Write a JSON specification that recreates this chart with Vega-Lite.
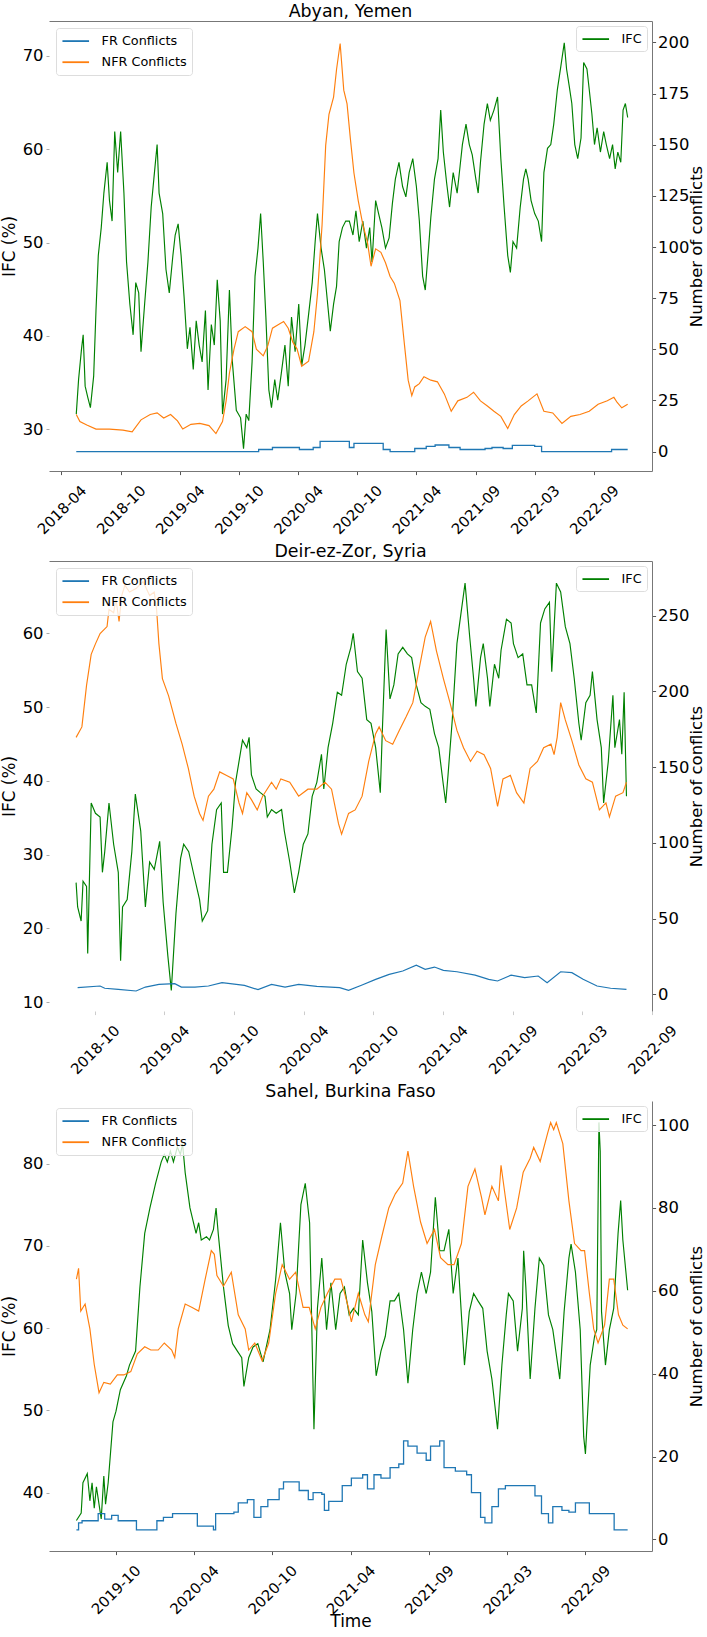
{
  "$schema": "https://vega.github.io/schema/vega-lite/v6.json",
  "description": "IFC and number of FR/NFR conflicts over time for three regions.",
  "padding": {"left": 0, "top": 3, "right": 0, "bottom": 0},
  "spacing": 90,
  "bounds": "flush",
  "datasets": {
    "abyan_ifc": [
      {"date":"2018-06-02","ifc":31.6},{"date":"2018-06-09","ifc":35.3},{"date":"2018-06-18","ifc":38.6},{"date":"2018-06-23","ifc":40.1},{"date":"2018-06-29","ifc":34.6},{"date":"2018-07-07","ifc":33.4},{"date":"2018-07-15","ifc":32.3},{"date":"2018-07-25","ifc":35.7},{"date":"2018-08-01","ifc":42.7},{"date":"2018-08-08","ifc":48.6},{"date":"2018-08-17","ifc":51.6},{"date":"2018-08-25","ifc":55.3},{"date":"2018-09-04","ifc":58.6},{"date":"2018-09-11","ifc":54.5},{"date":"2018-09-19","ifc":52.3},{"date":"2018-09-27","ifc":61.9},{"date":"2018-10-06","ifc":57.5},{"date":"2018-10-15","ifc":61.9},{"date":"2018-10-25","ifc":55.3},{"date":"2018-11-02","ifc":47.9},{"date":"2018-11-12","ifc":43.4},{"date":"2018-11-22","ifc":40.1},{"date":"2018-11-30","ifc":45.7},{"date":"2018-12-09","ifc":44.6},{"date":"2018-12-16","ifc":38.3},{"date":"2018-12-27","ifc":43.4},
      {"date":"2019-01-06","ifc":47.9},{"date":"2019-01-16","ifc":53.8},{"date":"2019-01-24","ifc":56.8},{"date":"2019-02-03","ifc":60.5},{"date":"2019-02-09","ifc":55.3},{"date":"2019-02-20","ifc":53.1},{"date":"2019-03-02","ifc":47.1},{"date":"2019-03-12","ifc":44.6},{"date":"2019-03-23","ifc":48.6},{"date":"2019-03-30","ifc":50.8},{"date":"2019-04-08","ifc":52.0},{"date":"2019-04-17","ifc":48.6},{"date":"2019-04-26","ifc":44.2},{"date":"2019-05-06","ifc":38.6},{"date":"2019-05-14","ifc":40.9},{"date":"2019-05-24","ifc":36.4},{"date":"2019-06-02","ifc":41.6},{"date":"2019-06-11","ifc":39.0},{"date":"2019-06-20","ifc":37.2},{"date":"2019-06-30","ifc":42.7},{"date":"2019-07-08","ifc":34.2},{"date":"2019-07-18","ifc":41.2},{"date":"2019-07-27","ifc":39.0},{"date":"2019-08-05","ifc":46.0},{"date":"2019-08-14","ifc":41.6},{"date":"2019-08-21","ifc":31.6},{"date":"2019-09-01","ifc":35.3},{"date":"2019-09-11","ifc":44.9},{"date":"2019-09-20","ifc":37.2},{"date":"2019-10-02","ifc":32.0},{"date":"2019-10-15","ifc":31.2},{"date":"2019-10-24","ifc":27.9},{"date":"2019-11-01","ifc":31.6},{"date":"2019-11-09","ifc":30.9},{"date":"2019-11-19","ifc":37.2},{"date":"2019-11-28","ifc":46.4},{"date":"2019-12-07","ifc":49.4},{"date":"2019-12-15","ifc":53.1},{"date":"2019-12-23","ifc":47.9},{"date":"2019-12-31","ifc":42.0},
      {"date":"2020-01-09","ifc":34.2},{"date":"2020-01-17","ifc":32.3},{"date":"2020-01-27","ifc":35.3},{"date":"2020-02-05","ifc":33.1},{"date":"2020-02-16","ifc":36.0},{"date":"2020-02-27","ifc":39.0},{"date":"2020-03-08","ifc":34.6},{"date":"2020-03-18","ifc":42.0},{"date":"2020-03-29","ifc":38.3},{"date":"2020-04-09","ifc":43.4},{"date":"2020-04-18","ifc":36.8},{"date":"2020-04-28","ifc":39.0},{"date":"2020-05-09","ifc":42.3},{"date":"2020-05-20","ifc":45.7},{"date":"2020-05-29","ifc":50.1},{"date":"2020-06-05","ifc":53.1},{"date":"2020-06-16","ifc":49.4},{"date":"2020-06-26","ifc":47.1},{"date":"2020-07-06","ifc":43.4},{"date":"2020-07-14","ifc":40.5},{"date":"2020-07-24","ifc":43.4},{"date":"2020-08-02","ifc":45.3},{"date":"2020-08-10","ifc":50.1},{"date":"2020-08-20","ifc":51.6},{"date":"2020-08-30","ifc":52.3},{"date":"2020-09-10","ifc":52.3},{"date":"2020-09-21","ifc":50.8},{"date":"2020-09-30","ifc":53.4},{"date":"2020-10-10","ifc":50.1},{"date":"2020-10-21","ifc":52.3},{"date":"2020-11-01","ifc":49.4},{"date":"2020-11-11","ifc":51.6},{"date":"2020-11-18","ifc":47.9},{"date":"2020-11-29","ifc":54.5},{"date":"2020-12-08","ifc":53.1},{"date":"2020-12-18","ifc":51.6},{"date":"2020-12-29","ifc":49.4},
      {"date":"2021-01-09","ifc":50.5},{"date":"2021-01-19","ifc":54.2},{"date":"2021-01-28","ifc":56.8},{"date":"2021-02-08","ifc":58.6},{"date":"2021-02-19","ifc":56.0},{"date":"2021-03-01","ifc":54.9},{"date":"2021-03-11","ifc":57.5},{"date":"2021-03-22","ifc":59.0},{"date":"2021-04-02","ifc":56.0},{"date":"2021-04-11","ifc":52.3},{"date":"2021-04-21","ifc":46.4},{"date":"2021-04-29","ifc":44.9},{"date":"2021-05-09","ifc":49.4},{"date":"2021-05-16","ifc":52.7},{"date":"2021-05-27","ifc":56.8},{"date":"2021-06-07","ifc":59.0},{"date":"2021-06-15","ifc":64.2},{"date":"2021-06-23","ifc":59.7},{"date":"2021-07-03","ifc":56.4},{"date":"2021-07-12","ifc":53.8},{"date":"2021-07-23","ifc":57.5},{"date":"2021-08-04","ifc":55.3},{"date":"2021-08-13","ifc":58.2},{"date":"2021-08-20","ifc":60.5},{"date":"2021-08-31","ifc":62.7},{"date":"2021-09-10","ifc":60.5},{"date":"2021-09-19","ifc":59.4},{"date":"2021-09-30","ifc":56.8},{"date":"2021-10-07","ifc":55.3},{"date":"2021-10-14","ifc":58.6},{"date":"2021-10-25","ifc":62.7},{"date":"2021-11-04","ifc":64.9},{"date":"2021-11-13","ifc":63.1},{"date":"2021-11-24","ifc":64.2},{"date":"2021-12-05","ifc":65.6},{"date":"2021-12-15","ifc":59.0},{"date":"2021-12-25","ifc":53.8},
      {"date":"2022-01-05","ifc":48.6},{"date":"2022-01-13","ifc":46.8},{"date":"2022-01-21","ifc":50.1},{"date":"2022-02-01","ifc":49.4},{"date":"2022-02-12","ifc":53.8},{"date":"2022-02-22","ifc":56.8},{"date":"2022-03-01","ifc":57.9},{"date":"2022-03-08","ifc":56.8},{"date":"2022-03-17","ifc":54.5},{"date":"2022-03-28","ifc":53.1},{"date":"2022-04-08","ifc":52.3},{"date":"2022-04-18","ifc":50.1},{"date":"2022-04-25","ifc":57.5},{"date":"2022-05-06","ifc":60.1},{"date":"2022-05-16","ifc":60.5},{"date":"2022-05-25","ifc":62.7},{"date":"2022-06-05","ifc":66.4},{"date":"2022-06-16","ifc":69.0},{"date":"2022-06-26","ifc":71.4},{"date":"2022-07-03","ifc":68.6},{"date":"2022-07-11","ifc":66.8},{"date":"2022-07-19","ifc":64.9},{"date":"2022-07-28","ifc":60.5},{"date":"2022-08-06","ifc":59.0},{"date":"2022-08-16","ifc":61.2},{"date":"2022-08-24","ifc":69.3},{"date":"2022-09-03","ifc":68.6},{"date":"2022-09-10","ifc":66.4},{"date":"2022-09-18","ifc":63.8},{"date":"2022-09-26","ifc":60.5},{"date":"2022-10-04","ifc":62.3},{"date":"2022-10-14","ifc":59.7},{"date":"2022-10-24","ifc":61.9},{"date":"2022-11-01","ifc":60.5},{"date":"2022-11-11","ifc":59.0},{"date":"2022-11-20","ifc":60.5},{"date":"2022-11-28","ifc":57.9},{"date":"2022-12-06","ifc":59.7},{"date":"2022-12-15","ifc":58.6},{"date":"2022-12-22","ifc":64.2},{"date":"2022-12-29","ifc":64.9},{"date":"2023-01-05","ifc":63.4}
    ],
    "abyan_nfr": [
      {"date":"2018-06-02","conflicts":18.1},{"date":"2018-06-13","conflicts":14.7},{"date":"2018-07-04","conflicts":13.0},{"date":"2018-08-01","conflicts":11.0},{"date":"2018-09-11","conflicts":11.0},{"date":"2018-10-22","conflicts":10.5},{"date":"2018-11-19","conflicts":9.6},{"date":"2018-12-16","conflicts":15.5},{"date":"2019-01-13","conflicts":18.1},{"date":"2019-02-03","conflicts":18.9},{"date":"2019-02-23","conflicts":16.4},{"date":"2019-03-16","conflicts":18.1},{"date":"2019-04-06","conflicts":15.0},{"date":"2019-04-22","conflicts":11.0},{"date":"2019-05-17","conflicts":13.3},{"date":"2019-06-13","conflicts":13.8},{"date":"2019-07-11","conflicts":12.7},{"date":"2019-08-01","conflicts":8.8},{"date":"2019-08-21","conflicts":14.7},{"date":"2019-09-01","conflicts":24.8},{"date":"2019-09-11","conflicts":38.3},{"date":"2019-09-25","conflicts":50.1},{"date":"2019-10-08","conflicts":58.6},{"date":"2019-10-29","conflicts":61.1},{"date":"2019-11-19","conflicts":58.6},{"date":"2019-12-02","conflicts":50.1},{"date":"2019-12-23","conflicts":46.8},
      {"date":"2020-01-06","conflicts":51.8},{"date":"2020-01-20","conflicts":60.3},{"date":"2020-02-05","conflicts":61.9},{"date":"2020-02-23","conflicts":63.6},{"date":"2020-03-08","conflicts":60.3},{"date":"2020-03-22","conflicts":53.5},{"date":"2020-04-04","conflicts":50.1},{"date":"2020-04-18","conflicts":41.7},{"date":"2020-05-09","conflicts":44.2},{"date":"2020-05-25","conflicts":58.6},{"date":"2020-06-05","conflicts":77.1},{"date":"2020-06-19","conflicts":110.9},{"date":"2020-06-30","conflicts":149.7},{"date":"2020-07-10","conflicts":164.9},{"date":"2020-07-24","conflicts":173.3},{"date":"2020-08-02","conflicts":186.8},{"date":"2020-08-13","conflicts":199.5},{"date":"2020-08-24","conflicts":176.7},{"date":"2020-09-03","conflicts":170.0},{"date":"2020-09-13","conflicts":153.1},{"date":"2020-09-24","conflicts":136.2},{"date":"2020-10-07","conflicts":122.7},{"date":"2020-10-21","conflicts":110.9},{"date":"2020-11-04","conflicts":102.4},{"date":"2020-11-15","conflicts":90.6},{"date":"2020-11-29","conflicts":99.1},{"date":"2020-12-15","conflicts":97.4},{"date":"2020-12-29","conflicts":92.3},
      {"date":"2021-01-12","conflicts":85.6},{"date":"2021-01-25","conflicts":82.2},{"date":"2021-02-11","conflicts":73.8},{"date":"2021-02-25","conflicts":51.8},{"date":"2021-03-08","conflicts":34.9},{"date":"2021-03-19","conflicts":27.3},{"date":"2021-03-28","conflicts":31.6},{"date":"2021-04-11","conflicts":33.2},{"date":"2021-04-25","conflicts":36.6},{"date":"2021-05-16","conflicts":34.9},{"date":"2021-06-05","conflicts":34.1},{"date":"2021-06-26","conflicts":28.2},{"date":"2021-07-17","conflicts":19.7},{"date":"2021-08-06","conflicts":24.8},{"date":"2021-09-03","conflicts":26.5},{"date":"2021-09-23","conflicts":29.0},{"date":"2021-10-14","conflicts":24.8},{"date":"2021-11-04","conflicts":22.3},{"date":"2021-11-24","conflicts":19.7},{"date":"2021-12-15","conflicts":17.2},
      {"date":"2022-01-05","conflicts":11.3},{"date":"2022-01-25","conflicts":18.1},{"date":"2022-02-15","conflicts":22.3},{"date":"2022-03-08","conflicts":24.8},{"date":"2022-04-04","conflicts":28.2},{"date":"2022-04-25","conflicts":19.7},{"date":"2022-05-22","conflicts":18.9},{"date":"2022-06-19","conflicts":13.8},{"date":"2022-07-16","conflicts":17.2},{"date":"2022-08-13","conflicts":18.1},{"date":"2022-09-10","conflicts":19.7},{"date":"2022-10-07","conflicts":23.1},{"date":"2022-11-04","conflicts":24.8},{"date":"2022-11-24","conflicts":26.5},{"date":"2022-12-04","conflicts":24.0},{"date":"2022-12-18","conflicts":21.4},{"date":"2023-01-05","conflicts":23.1}
    ],
    "abyan_fr": [
      {"date":"2018-06-02","conflicts":0},{"date":"2019-12-09","conflicts":1},{"date":"2020-01-20","conflicts":2},{"date":"2020-04-11","conflicts":1},{"date":"2020-05-23","conflicts":2},{"date":"2020-06-13","conflicts":5},{"date":"2020-09-10","conflicts":2},{"date":"2020-09-24","conflicts":4},{"date":"2020-12-22","conflicts":1},{"date":"2021-01-12","conflicts":0},{"date":"2021-03-28","conflicts":1.5},{"date":"2021-05-02","conflicts":2.5},{"date":"2021-05-29","conflicts":3.2},{"date":"2021-07-10","conflicts":2},{"date":"2021-08-13","conflicts":1},{"date":"2021-10-28","conflicts":1.5},{"date":"2021-11-18","conflicts":2},{"date":"2021-12-22","conflicts":1.5},{"date":"2022-01-19","conflicts":3},{"date":"2022-03-28","conflicts":2.5},{"date":"2022-04-18","conflicts":0},{"date":"2022-11-17","conflicts":1},{"date":"2023-01-05","conflicts":1}
    ],
    "deir_ifc": [
      {"date":"2018-08-28","ifc":26.2},{"date":"2018-09-01","ifc":22.9},{"date":"2018-09-10","ifc":21.0},{"date":"2018-09-15","ifc":26.4},{"date":"2018-09-24","ifc":25.7},{"date":"2018-09-27","ifc":16.6},{"date":"2018-10-06","ifc":37.0},{"date":"2018-10-17","ifc":35.6},{"date":"2018-10-29","ifc":35.1},{"date":"2018-11-04","ifc":27.6},{"date":"2018-11-10","ifc":30.4},{"date":"2018-11-21","ifc":37.0},{"date":"2018-12-03","ifc":31.4},{"date":"2018-12-15","ifc":27.6},{"date":"2018-12-21","ifc":15.6},{"date":"2018-12-26","ifc":22.9},
      {"date":"2019-01-07","ifc":23.9},{"date":"2019-01-19","ifc":30.4},{"date":"2019-01-28","ifc":38.2},{"date":"2019-02-11","ifc":33.2},{"date":"2019-02-23","ifc":22.9},{"date":"2019-03-06","ifc":29.0},{"date":"2019-03-18","ifc":28.0},{"date":"2019-04-01","ifc":31.8},{"date":"2019-04-10","ifc":23.5},{"date":"2019-04-22","ifc":16.3},{"date":"2019-05-01","ifc":11.6},{"date":"2019-05-13","ifc":22.0},{"date":"2019-05-25","ifc":29.5},{"date":"2019-06-02","ifc":31.4},{"date":"2019-06-15","ifc":30.4},{"date":"2019-06-29","ifc":27.1},{"date":"2019-07-13","ifc":23.9},{"date":"2019-07-20","ifc":21.0},{"date":"2019-08-03","ifc":22.4},{"date":"2019-08-14","ifc":31.4},{"date":"2019-08-26","ifc":36.1},{"date":"2019-09-07","ifc":37.0},{"date":"2019-09-13","ifc":27.6},{"date":"2019-09-23","ifc":27.6},{"date":"2019-10-05","ifc":33.7},{"date":"2019-10-14","ifc":39.8},{"date":"2019-11-01","ifc":45.5},{"date":"2019-11-12","ifc":44.5},{"date":"2019-11-18","ifc":45.9},{"date":"2019-11-24","ifc":40.8},{"date":"2019-12-06","ifc":38.9},{"date":"2019-12-17","ifc":38.4},{"date":"2019-12-29","ifc":37.9},
      {"date":"2020-01-04","ifc":35.1},{"date":"2020-01-15","ifc":36.1},{"date":"2020-01-27","ifc":35.6},{"date":"2020-02-10","ifc":36.1},{"date":"2020-02-17","ifc":33.2},{"date":"2020-03-02","ifc":29.0},{"date":"2020-03-14","ifc":24.8},{"date":"2020-03-25","ifc":27.6},{"date":"2020-04-06","ifc":31.4},{"date":"2020-04-18","ifc":32.8},{"date":"2020-04-29","ifc":37.9},{"date":"2020-05-11","ifc":39.8},{"date":"2020-05-23","ifc":43.6},{"date":"2020-05-29","ifc":38.9},{"date":"2020-06-09","ifc":44.5},{"date":"2020-06-21","ifc":47.8},{"date":"2020-07-03","ifc":52.0},{"date":"2020-07-14","ifc":51.6},{"date":"2020-07-26","ifc":55.8},{"date":"2020-08-07","ifc":58.1},{"date":"2020-08-13","ifc":60.0},{"date":"2020-08-24","ifc":54.8},{"date":"2020-09-05","ifc":53.9},{"date":"2020-09-17","ifc":48.3},{"date":"2020-09-28","ifc":47.8},{"date":"2020-10-10","ifc":44.5},{"date":"2020-10-22","ifc":38.4},{"date":"2020-10-27","ifc":46.4},{"date":"2020-11-06","ifc":60.5},{"date":"2020-11-16","ifc":51.1},{"date":"2020-11-26","ifc":53.0},{"date":"2020-12-07","ifc":57.2},{"date":"2020-12-19","ifc":58.1},{"date":"2020-12-31","ifc":57.2},
      {"date":"2021-01-11","ifc":56.7},{"date":"2021-01-23","ifc":53.0},{"date":"2021-02-04","ifc":50.6},{"date":"2021-02-15","ifc":50.1},{"date":"2021-02-27","ifc":49.7},{"date":"2021-03-11","ifc":46.4},{"date":"2021-03-22","ifc":44.5},{"date":"2021-04-03","ifc":39.4},{"date":"2021-04-09","ifc":37.0},{"date":"2021-04-15","ifc":40.8},{"date":"2021-04-26","ifc":48.3},{"date":"2021-05-08","ifc":58.6},{"date":"2021-05-20","ifc":63.3},{"date":"2021-05-29","ifc":66.8},{"date":"2021-06-10","ifc":59.5},{"date":"2021-06-20","ifc":53.9},{"date":"2021-06-26","ifc":50.1},{"date":"2021-07-08","ifc":56.7},{"date":"2021-07-15","ifc":58.6},{"date":"2021-07-26","ifc":53.9},{"date":"2021-08-01","ifc":50.1},{"date":"2021-08-13","ifc":55.8},{"date":"2021-08-24","ifc":53.9},{"date":"2021-08-30","ifc":57.7},{"date":"2021-09-13","ifc":61.9},{"date":"2021-09-25","ifc":61.4},{"date":"2021-10-01","ifc":58.6},{"date":"2021-10-13","ifc":56.7},{"date":"2021-10-25","ifc":57.2},{"date":"2021-11-05","ifc":53.0},{"date":"2021-11-17","ifc":53.0},{"date":"2021-11-29","ifc":49.2},{"date":"2021-12-10","ifc":61.4},{"date":"2021-12-21","ifc":63.3},
      {"date":"2022-01-02","ifc":64.2},{"date":"2022-01-08","ifc":54.8},{"date":"2022-01-20","ifc":66.8},{"date":"2022-01-31","ifc":65.6},{"date":"2022-02-12","ifc":60.9},{"date":"2022-02-24","ifc":58.6},{"date":"2022-03-07","ifc":53.9},{"date":"2022-03-19","ifc":47.8},{"date":"2022-03-25","ifc":45.5},{"date":"2022-04-06","ifc":50.6},{"date":"2022-04-17","ifc":51.6},{"date":"2022-04-23","ifc":54.8},{"date":"2022-05-05","ifc":48.3},{"date":"2022-05-16","ifc":44.5},{"date":"2022-05-22","ifc":37.0},{"date":"2022-06-03","ifc":42.6},{"date":"2022-06-15","ifc":51.6},{"date":"2022-06-20","ifc":44.5},{"date":"2022-07-02","ifc":48.3},{"date":"2022-07-08","ifc":43.6},{"date":"2022-07-14","ifc":52.0},{"date":"2022-07-20","ifc":37.9}
    ],
    "deir_nfr": [
      {"date":"2018-08-28","conflicts":169.6},{"date":"2018-09-12","conflicts":176.5},{"date":"2018-09-24","conflicts":203.9},{"date":"2018-10-06","conflicts":224.4},{"date":"2018-10-17","conflicts":231.3},{"date":"2018-10-29","conflicts":238.1},{"date":"2018-11-16","conflicts":242.7},{"date":"2018-11-21","conflicts":254.1},{"date":"2018-12-03","conflicts":251.8},{"date":"2018-12-09","conflicts":261.0},{"date":"2018-12-17","conflicts":246.1},{"date":"2018-12-24","conflicts":263.2},{"date":"2019-01-01","conflicts":270.1},{"date":"2019-01-13","conflicts":265.5},{"date":"2019-01-30","conflicts":267.8},{"date":"2019-02-17","conflicts":272.4},{"date":"2019-03-06","conflicts":263.2},{"date":"2019-03-18","conflicts":265.5},{"date":"2019-03-24","conflicts":254.1},{"date":"2019-03-30","conflicts":231.3},{"date":"2019-04-08","conflicts":208.4},{"date":"2019-04-24","conflicts":197.0},{"date":"2019-05-13","conflicts":178.8},{"date":"2019-05-29","conflicts":165.1},{"date":"2019-06-14","conflicts":149.1},{"date":"2019-06-29","conflicts":130.8},{"date":"2019-07-13","conflicts":119.4},{"date":"2019-07-22","conflicts":114.8},{"date":"2019-08-05","conflicts":130.8},{"date":"2019-08-19","conflicts":135.4},{"date":"2019-09-03","conflicts":146.8},{"date":"2019-09-21","conflicts":144.5},{"date":"2019-10-08","conflicts":142.2},{"date":"2019-10-23","conflicts":126.3},{"date":"2019-11-01","conflicts":119.4},{"date":"2019-11-12","conflicts":133.1},{"date":"2019-11-24","conflicts":128.5},{"date":"2019-12-09","conflicts":121.7},{"date":"2019-12-23","conflicts":130.8},
      {"date":"2020-01-15","conflicts":140.0},{"date":"2020-01-27","conflicts":135.4},{"date":"2020-02-08","conflicts":142.2},{"date":"2020-03-02","conflicts":140.0},{"date":"2020-03-25","conflicts":130.8},{"date":"2020-04-18","conflicts":135.4},{"date":"2020-05-11","conflicts":135.4},{"date":"2020-06-01","conflicts":140.0},{"date":"2020-06-18","conflicts":135.4},{"date":"2020-07-06","conflicts":112.6},{"date":"2020-07-14","conflicts":105.7},{"date":"2020-08-01","conflicts":119.4},{"date":"2020-08-18","conflicts":121.7},{"date":"2020-09-05","conflicts":130.8},{"date":"2020-09-22","conflicts":153.7},{"date":"2020-10-10","conflicts":172.0},{"date":"2020-10-19","conflicts":176.5},{"date":"2020-11-05","conflicts":167.4},{"date":"2020-11-23","conflicts":165.1},{"date":"2020-12-10","conflicts":174.2},{"date":"2020-12-28","conflicts":183.3},
      {"date":"2021-01-14","conflicts":192.5},{"date":"2021-01-29","conflicts":213.0},{"date":"2021-02-15","conflicts":235.8},{"date":"2021-03-01","conflicts":246.1},{"date":"2021-03-16","conflicts":226.7},{"date":"2021-04-03","conflicts":208.4},{"date":"2021-04-20","conflicts":192.5},{"date":"2021-05-08","conflicts":174.2},{"date":"2021-05-25","conflicts":162.8},{"date":"2021-06-12","conflicts":153.7},{"date":"2021-06-29","conflicts":160.5},{"date":"2021-07-17","conflicts":158.2},{"date":"2021-08-03","conflicts":149.1},{"date":"2021-08-21","conflicts":124.0},{"date":"2021-09-04","conflicts":142.2},{"date":"2021-09-23","conflicts":144.5},{"date":"2021-10-09","conflicts":133.1},{"date":"2021-10-28","conflicts":126.3},{"date":"2021-11-13","conflicts":149.1},{"date":"2021-12-02","conflicts":153.7},{"date":"2021-12-18","conflicts":162.8},
      {"date":"2022-01-06","conflicts":165.1},{"date":"2022-01-14","conflicts":158.2},{"date":"2022-01-22","conflicts":169.6},{"date":"2022-01-31","conflicts":192.5},{"date":"2022-02-12","conflicts":181.1},{"date":"2022-03-01","conflicts":167.4},{"date":"2022-03-19","conflicts":151.4},{"date":"2022-04-06","conflicts":142.2},{"date":"2022-04-23","conflicts":140.0},{"date":"2022-05-11","conflicts":121.7},{"date":"2022-05-28","conflicts":126.3},{"date":"2022-06-06","conflicts":117.1},{"date":"2022-06-22","conflicts":130.8},{"date":"2022-07-11","conflicts":133.1},{"date":"2022-07-20","conflicts":140.0}
    ],
    "deir_fr": [
      {"date":"2018-09-01","conflicts":4.4},{"date":"2018-10-29","conflicts":5.5},{"date":"2018-11-10","conflicts":4.0},{"date":"2018-12-15","conflicts":3.3},{"date":"2019-01-30","conflicts":2.2},{"date":"2019-02-23","conflicts":4.8},{"date":"2019-03-30","conflicts":6.6},{"date":"2019-05-10","conflicts":7.0},{"date":"2019-05-27","conflicts":4.8},{"date":"2019-07-01","conflicts":4.8},{"date":"2019-08-05","conflicts":5.5},{"date":"2019-09-09","conflicts":7.7},{"date":"2019-11-06","conflicts":5.9},{"date":"2019-12-11","conflicts":3.1},{"date":"2020-01-15","conflicts":6.6},{"date":"2020-02-19","conflicts":4.8},{"date":"2020-03-25","conflicts":6.6},{"date":"2020-05-11","conflicts":5.3},{"date":"2020-07-09","conflicts":4.4},{"date":"2020-08-01","conflicts":2.6},{"date":"2020-09-05","conflicts":6.2},{"date":"2020-10-10","conflicts":9.9},{"date":"2020-11-14","conflicts":13.2},{"date":"2020-12-19","conflicts":15.4},{"date":"2021-01-23","conflicts":19.3},{"date":"2021-02-15","conflicts":16.5},{"date":"2021-03-11","conflicts":18.0},{"date":"2021-04-03","conflicts":15.8},{"date":"2021-05-08","conflicts":14.9},{"date":"2021-06-24","conflicts":12.7},{"date":"2021-07-29","conflicts":9.9},{"date":"2021-08-21","conflicts":8.8},{"date":"2021-09-25","conflicts":12.7},{"date":"2021-10-30","conflicts":11.0},{"date":"2021-12-04","conflicts":12.1},{"date":"2021-12-27","conflicts":7.7},{"date":"2022-01-31","conflicts":14.9},{"date":"2022-03-01","conflicts":14.3},{"date":"2022-03-30","conflicts":9.9},{"date":"2022-05-05","conflicts":5.5},{"date":"2022-06-09","conflicts":4.0},{"date":"2022-07-20","conflicts":3.3}
    ],
    "sahel_ifc": [
      {"date":"2019-07-12","ifc":36.6},{"date":"2019-07-23","ifc":37.5},{"date":"2019-07-27","ifc":41.2},{"date":"2019-08-06","ifc":42.3},{"date":"2019-08-12","ifc":39.0},{"date":"2019-08-17","ifc":41.2},{"date":"2019-08-22","ifc":38.1},{"date":"2019-08-27","ifc":40.7},{"date":"2019-09-07","ifc":36.8},{"date":"2019-09-13","ifc":42.0},{"date":"2019-09-17","ifc":38.6},{"date":"2019-09-23","ifc":41.2},{"date":"2019-10-04","ifc":48.6},{"date":"2019-10-11","ifc":49.9},{"date":"2019-10-21","ifc":52.5},{"date":"2019-11-04","ifc":54.2},{"date":"2019-11-11","ifc":55.5},{"date":"2019-11-25","ifc":57.2},{"date":"2019-12-05","ifc":65.0},{"date":"2019-12-16","ifc":71.5},{"date":"2019-12-28","ifc":74.6},
      {"date":"2020-01-10","ifc":77.6},{"date":"2020-01-23","ifc":80.2},{"date":"2020-01-30","ifc":81.1},{"date":"2020-02-06","ifc":80.2},{"date":"2020-02-13","ifc":81.5},{"date":"2020-02-20","ifc":80.2},{"date":"2020-02-29","ifc":82.0},{"date":"2020-03-07","ifc":81.1},{"date":"2020-03-12","ifc":82.4},{"date":"2020-03-18","ifc":78.9},{"date":"2020-03-29","ifc":74.6},{"date":"2020-04-12","ifc":71.5},{"date":"2020-04-18","ifc":72.8},{"date":"2020-04-24","ifc":70.7},{"date":"2020-05-06","ifc":71.1},{"date":"2020-05-13","ifc":70.7},{"date":"2020-05-22","ifc":72.0},{"date":"2020-05-28","ifc":74.6},{"date":"2020-06-02","ifc":71.5},{"date":"2020-06-14","ifc":65.0},{"date":"2020-06-25","ifc":60.3},{"date":"2020-07-05","ifc":58.1},{"date":"2020-07-16","ifc":57.2},{"date":"2020-07-26","ifc":56.4},{"date":"2020-07-31","ifc":52.9},{"date":"2020-08-11","ifc":56.4},{"date":"2020-08-21","ifc":57.7},{"date":"2020-09-01","ifc":58.1},{"date":"2020-09-13","ifc":55.9},{"date":"2020-09-29","ifc":59.8},{"date":"2020-10-12","ifc":65.9},{"date":"2020-10-23","ifc":72.8},{"date":"2020-11-02","ifc":66.8},{"date":"2020-11-13","ifc":64.2},{"date":"2020-11-18","ifc":59.8},{"date":"2020-11-28","ifc":64.2},{"date":"2020-12-09","ifc":75.0},{"date":"2020-12-19","ifc":77.6},{"date":"2020-12-29","ifc":72.8},
      {"date":"2021-01-08","ifc":47.7},{"date":"2021-01-16","ifc":62.4},{"date":"2021-01-26","ifc":68.5},{"date":"2021-02-06","ifc":59.8},{"date":"2021-02-16","ifc":65.5},{"date":"2021-02-27","ifc":59.8},{"date":"2021-03-09","ifc":64.2},{"date":"2021-03-19","ifc":65.0},{"date":"2021-03-30","ifc":61.6},{"date":"2021-04-09","ifc":62.4},{"date":"2021-04-20","ifc":61.6},{"date":"2021-04-30","ifc":70.7},{"date":"2021-05-11","ifc":65.5},{"date":"2021-05-21","ifc":62.0},{"date":"2021-05-31","ifc":54.2},{"date":"2021-06-11","ifc":57.2},{"date":"2021-06-21","ifc":59.0},{"date":"2021-07-02","ifc":63.3},{"date":"2021-07-12","ifc":63.3},{"date":"2021-07-22","ifc":64.2},{"date":"2021-08-02","ifc":59.8},{"date":"2021-08-12","ifc":53.3},{"date":"2021-08-23","ifc":59.8},{"date":"2021-09-02","ifc":64.2},{"date":"2021-09-12","ifc":66.8},{"date":"2021-09-23","ifc":64.2},{"date":"2021-10-03","ifc":66.8},{"date":"2021-10-14","ifc":75.9},{"date":"2021-10-24","ifc":69.4},{"date":"2021-11-03","ifc":69.4},{"date":"2021-11-14","ifc":72.0},{"date":"2021-11-24","ifc":64.2},{"date":"2021-12-05","ifc":68.5},{"date":"2021-12-15","ifc":59.8},{"date":"2021-12-20","ifc":55.5},{"date":"2021-12-31","ifc":62.0},
      {"date":"2022-01-10","ifc":64.2},{"date":"2022-01-20","ifc":63.3},{"date":"2022-01-31","ifc":62.4},{"date":"2022-02-10","ifc":57.2},{"date":"2022-02-21","ifc":53.8},{"date":"2022-03-06","ifc":47.7},{"date":"2022-03-16","ifc":55.5},{"date":"2022-03-26","ifc":61.6},{"date":"2022-03-31","ifc":64.2},{"date":"2022-04-11","ifc":63.3},{"date":"2022-04-21","ifc":57.2},{"date":"2022-05-02","ifc":62.4},{"date":"2022-05-05","ifc":69.4},{"date":"2022-05-10","ifc":65.0},{"date":"2022-05-20","ifc":53.8},{"date":"2022-05-31","ifc":62.4},{"date":"2022-06-10","ifc":68.5},{"date":"2022-06-20","ifc":67.6},{"date":"2022-07-01","ifc":61.6},{"date":"2022-07-11","ifc":59.8},{"date":"2022-07-27","ifc":53.8},{"date":"2022-08-06","ifc":62.0},{"date":"2022-08-17","ifc":68.5},{"date":"2022-08-22","ifc":70.2},{"date":"2022-09-01","ifc":66.8},{"date":"2022-09-12","ifc":59.8},{"date":"2022-09-20","ifc":46.8},{"date":"2022-09-24","ifc":44.7},{"date":"2022-10-05","ifc":55.5},{"date":"2022-10-15","ifc":59.0},{"date":"2022-10-20","ifc":59.8},{"date":"2022-10-25","ifc":85.0},{"date":"2022-10-28","ifc":81.5},{"date":"2022-10-31","ifc":62.0},{"date":"2022-11-09","ifc":55.5},{"date":"2022-11-18","ifc":59.8},{"date":"2022-11-28","ifc":62.4},{"date":"2022-12-08","ifc":71.5},{"date":"2022-12-14","ifc":75.5},{"date":"2022-12-19","ifc":70.7},{"date":"2022-12-30","ifc":64.6}
    ],
    "sahel_nfr": [
      {"date":"2019-07-12","conflicts":62.8},{"date":"2019-07-17","conflicts":65.4},{"date":"2019-07-22","conflicts":55.1},{"date":"2019-08-01","conflicts":56.8},{"date":"2019-08-12","conflicts":50.8},{"date":"2019-08-22","conflicts":42.2},{"date":"2019-09-02","conflicts":35.4},{"date":"2019-09-13","conflicts":37.9},{"date":"2019-09-28","conflicts":37.5},{"date":"2019-10-14","conflicts":39.7},{"date":"2019-10-29","conflicts":39.7},{"date":"2019-11-14","conflicts":40.5},{"date":"2019-11-29","conflicts":44.8},{"date":"2019-12-16","conflicts":46.5},{"date":"2019-12-30","conflicts":45.7},
      {"date":"2020-01-16","conflicts":45.7},{"date":"2020-01-30","conflicts":47.4},{"date":"2020-02-16","conflicts":45.7},{"date":"2020-02-23","conflicts":43.9},{"date":"2020-03-02","conflicts":50.8},{"date":"2020-03-18","conflicts":56.8},{"date":"2020-04-02","conflicts":56.0},{"date":"2020-04-18","conflicts":55.1},{"date":"2020-05-03","conflicts":62.8},{"date":"2020-05-17","conflicts":69.7},{"date":"2020-05-24","conflicts":68.8},{"date":"2020-05-30","conflicts":63.7},{"date":"2020-06-14","conflicts":61.1},{"date":"2020-07-02","conflicts":64.5},{"date":"2020-07-18","conflicts":54.2},{"date":"2020-08-03","conflicts":50.8},{"date":"2020-08-11","conflicts":45.7},{"date":"2020-08-25","conflicts":47.4},{"date":"2020-09-11","conflicts":43.1},{"date":"2020-09-26","conflicts":47.4},{"date":"2020-10-12","conflicts":59.4},{"date":"2020-10-27","conflicts":66.3},{"date":"2020-11-13","conflicts":62.8},{"date":"2020-11-27","conflicts":64.5},{"date":"2020-12-14","conflicts":56.0},{"date":"2020-12-28","conflicts":56.0},
      {"date":"2021-01-11","conflicts":50.8},{"date":"2021-01-24","conflicts":56.0},{"date":"2021-02-08","conflicts":59.4},{"date":"2021-02-25","conflicts":62.8},{"date":"2021-03-11","conflicts":62.8},{"date":"2021-03-28","conflicts":56.0},{"date":"2021-04-04","conflicts":52.5},{"date":"2021-04-20","conflicts":59.4},{"date":"2021-05-05","conflicts":54.2},{"date":"2021-05-13","conflicts":52.5},{"date":"2021-05-29","conflicts":66.3},{"date":"2021-06-13","conflicts":73.1},{"date":"2021-06-29","conflicts":80.0},{"date":"2021-07-14","conflicts":83.4},{"date":"2021-07-31","conflicts":86.0},{"date":"2021-08-12","conflicts":93.7},{"date":"2021-08-25","conflicts":85.2},{"date":"2021-09-10","conflicts":76.6},{"date":"2021-09-25","conflicts":71.4},{"date":"2021-10-12","conflicts":74.8},{"date":"2021-10-26","conflicts":68.0},{"date":"2021-11-12","conflicts":66.3},{"date":"2021-11-26","conflicts":66.3},{"date":"2021-12-13","conflicts":71.4},{"date":"2021-12-28","conflicts":85.2},
      {"date":"2022-01-13","conflicts":89.4},{"date":"2022-01-28","conflicts":82.6},{"date":"2022-02-05","conflicts":78.3},{"date":"2022-02-21","conflicts":85.2},{"date":"2022-03-08","conflicts":81.7},{"date":"2022-03-14","conflicts":90.3},{"date":"2022-04-03","conflicts":74.8},{"date":"2022-04-19","conflicts":80.0},{"date":"2022-05-04","conflicts":88.6},{"date":"2022-05-20","conflicts":92.0},{"date":"2022-05-28","conflicts":94.6},{"date":"2022-06-12","conflicts":91.2},{"date":"2022-06-29","conflicts":98.0},{"date":"2022-07-06","conflicts":100.6},{"date":"2022-07-13","conflicts":98.9},{"date":"2022-07-19","conflicts":100.6},{"date":"2022-08-03","conflicts":95.5},{"date":"2022-08-17","conflicts":81.7},{"date":"2022-08-30","conflicts":71.4},{"date":"2022-09-14","conflicts":69.7},{"date":"2022-09-22","conflicts":69.7},{"date":"2022-10-03","conflicts":59.4},{"date":"2022-10-13","conflicts":50.8},{"date":"2022-10-23","conflicts":47.4},{"date":"2022-11-07","conflicts":51.7},{"date":"2022-11-18","conflicts":62.8},{"date":"2022-11-28","conflicts":62.8},{"date":"2022-12-09","conflicts":54.2},{"date":"2022-12-19","conflicts":51.7},{"date":"2022-12-30","conflicts":50.8}
    ],
    "sahel_fr": [
      {"date":"2019-07-12","conflicts":2.3},{"date":"2019-07-17","conflicts":4.0},{"date":"2019-07-25","conflicts":4.5},{"date":"2019-08-31","conflicts":6.2},{"date":"2019-09-15","conflicts":4.9},{"date":"2019-10-01","conflicts":5.8},{"date":"2019-10-16","conflicts":4.5},{"date":"2019-11-27","conflicts":2.3},{"date":"2020-01-13","conflicts":4.5},{"date":"2020-01-28","conflicts":5.3},{"date":"2020-02-18","conflicts":6.2},{"date":"2020-04-15","conflicts":3.2},{"date":"2020-05-22","conflicts":2.3},{"date":"2020-05-27","conflicts":6.2},{"date":"2020-07-08","conflicts":6.6},{"date":"2020-07-18","conflicts":8.8},{"date":"2020-08-08","conflicts":9.6},{"date":"2020-08-23","conflicts":5.3},{"date":"2020-09-08","conflicts":7.9},{"date":"2020-09-24","conflicts":9.6},{"date":"2020-10-20","conflicts":12.2},{"date":"2020-10-30","conflicts":13.9},{"date":"2020-11-20","conflicts":13.9},{"date":"2020-12-05","conflicts":11.8},{"date":"2020-12-26","conflicts":9.6},{"date":"2021-01-06","conflicts":11.3},{"date":"2021-01-26","conflicts":10.9},{"date":"2021-02-01","conflicts":7.0},{"date":"2021-02-11","conflicts":9.2},{"date":"2021-03-04","conflicts":9.2},{"date":"2021-03-14","conflicts":13.0},{"date":"2021-04-04","conflicts":14.8},{"date":"2021-04-30","conflicts":15.6},{"date":"2021-05-11","conflicts":12.2},{"date":"2021-05-26","conflicts":15.6},{"date":"2021-06-11","conflicts":14.8},{"date":"2021-07-02","conflicts":17.3},{"date":"2021-07-22","conflicts":18.2},{"date":"2021-08-02","conflicts":23.8},{"date":"2021-08-12","conflicts":22.5},{"date":"2021-09-02","conflicts":20.8},{"date":"2021-09-23","conflicts":19.1},{"date":"2021-10-03","conflicts":22.5},{"date":"2021-10-24","conflicts":23.8},{"date":"2021-11-03","conflicts":17.3},{"date":"2021-11-29","conflicts":16.5},{"date":"2021-12-25","conflicts":15.6},{"date":"2022-01-05","conflicts":11.3},{"date":"2022-01-26","conflicts":5.3},{"date":"2022-02-05","conflicts":4.0},{"date":"2022-02-21","conflicts":7.9},{"date":"2022-03-08","conflicts":12.2},{"date":"2022-03-24","conflicts":13.0},{"date":"2022-05-15","conflicts":13.0},{"date":"2022-05-31","conflicts":10.5},{"date":"2022-06-15","conflicts":6.2},{"date":"2022-07-01","conflicts":4.0},{"date":"2022-07-11","conflicts":7.9},{"date":"2022-08-01","conflicts":7.0},{"date":"2022-08-17","conflicts":6.6},{"date":"2022-09-01","conflicts":8.8},{"date":"2022-09-27","conflicts":8.8},{"date":"2022-10-03","conflicts":6.2},{"date":"2022-11-13","conflicts":6.2},{"date":"2022-11-29","conflicts":2.3},{"date":"2022-12-30","conflicts":2.3}
    ]
  },
  "vconcat": [
    {
      "width": 603,
      "height": 450,
      "title": {"text": "Abyan, Yemen", "offset": 0.5, "anchor": "middle", "frame": "group"},
      "layer": [
        {
          "data": {"name": "abyan_ifc"},
          "mark": {"type": "line", "strokeWidth": 1.15},
          "encoding": {
            "x": {"field": "date", "type": "temporal",
              "scale": {"domain": [{"year": 2018, "month": 3, "date": 11}, {"year": 2023, "month": 3, "date": 20}]},
              "axis": {"title": null, "format": "%Y-%m", "values": [{"year": 2018, "month": 4, "date": 18}, {"year": 2018, "month": 10, "date": 15}, {"year": 2019, "month": 4, "date": 13}, {"year": 2019, "month": 10, "date": 10}, {"year": 2020, "month": 4, "date": 7}, {"year": 2020, "month": 10, "date": 4}, {"year": 2021, "month": 4, "date": 2}, {"year": 2021, "month": 9, "date": 29}, {"year": 2022, "month": 3, "date": 28}, {"year": 2022, "month": 9, "date": 24}],
                "labelAngle": -45, "labelAlign": "right", "labelBaseline": "top", "labelPadding": 8, "labelOffset": 17, "labelFontSize": 14.8, "labelOverlap": false, "labelFlush": false, "domain": true}},
            "y": {"field": "ifc", "type": "quantitative",
              "scale": {"domain": [25.5, 73.75], "nice": false, "zero": false},
              "axis": {"orient": "left", "title": "IFC (%)", "values": [30, 40, 50, 60, 70], "domain": false, "tickColor": "#aaaaaa", "tickSize": 3, "labelPadding": 3, "titlePadding": 4}},
            "color": {"datum": "IFC", "type": "nominal", "scale": {"domain": ["IFC"], "range": ["green"]}, "legend": {"orient": "top-right", "offset": 5}}
          }
        },
        {
          "encoding": {
            "x": {"field": "date", "type": "temporal",
              "scale": {"domain": [{"year": 2018, "month": 3, "date": 11}, {"year": 2023, "month": 3, "date": 20}]},
              "axis": {"orient": "top", "labels": false, "ticks": false, "title": null, "domain": true}},
            "y": {"field": "conflicts", "type": "quantitative",
              "scale": {"domain": [-9.5, 210.5], "nice": false, "zero": false},
              "axis": {"orient": "right", "title": "Number of conflicts", "titleAngle": -90, "titleBaseline": "top", "titlePadding": 0, "titleFontSize": 16.5, "values": [0, 25, 50, 75, 100, 125, 150, 175, 200]}}
          },
          "layer": [
            {
              "data": {"name": "abyan_fr"},
              "mark": {"type": "line", "interpolate": "step-after", "strokeWidth": 1.3},
              "encoding": {"color": {"datum": "FR Conflicts", "type": "nominal", "scale": {"domain": ["FR Conflicts", "NFR Conflicts"], "range": ["#1f77b4", "#ff7f0e"]}, "legend": {"orient": "top-left", "offset": 6.5}}}
            },
            {
              "data": {"name": "abyan_nfr"},
              "mark": {"type": "line", "strokeWidth": 1.15},
              "encoding": {"color": {"datum": "NFR Conflicts", "type": "nominal", "scale": {"domain": ["FR Conflicts", "NFR Conflicts"], "range": ["#1f77b4", "#ff7f0e"]}}}
            }
          ]
        }
      ],
      "resolve": {"scale": {"y": "independent", "color": "independent"}, "axis": {"x": "independent", "y": "independent"}}
    },
    {
      "width": 603,
      "height": 450,
      "title": {"text": "Deir-ez-Zor, Syria", "offset": 0.5, "anchor": "middle", "frame": "group"},
      "layer": [
        {
          "data": {"name": "deir_ifc"},
          "mark": {"type": "line", "strokeWidth": 1.15},
          "encoding": {
            "x": {"field": "date", "type": "temporal",
              "scale": {"domain": [{"year": 2018, "month": 6, "date": 19}, {"year": 2022, "month": 9, "date": 24}]},
              "axis": {"title": null, "format": "%Y-%m", "values": [{"year": 2018, "month": 10, "date": 15}, {"year": 2019, "month": 4, "date": 13}, {"year": 2019, "month": 10, "date": 10}, {"year": 2020, "month": 4, "date": 7}, {"year": 2020, "month": 10, "date": 4}, {"year": 2021, "month": 4, "date": 2}, {"year": 2021, "month": 9, "date": 29}, {"year": 2022, "month": 3, "date": 28}, {"year": 2022, "month": 9, "date": 24}],
                "labelAngle": -45, "labelAlign": "right", "labelBaseline": "top", "labelPadding": 8, "labelOffset": 17, "labelFontSize": 14.8, "labelOverlap": false, "labelFlush": false, "domain": false, "tickColor": "#cccccc"}},
            "y": {"field": "ifc", "type": "quantitative",
              "scale": {"domain": [8.8, 69.8], "nice": false, "zero": false},
              "axis": {"orient": "left", "title": "IFC (%)", "values": [10, 20, 30, 40, 50, 60], "domain": false, "tickColor": "#aaaaaa", "tickSize": 3, "labelPadding": 3, "titlePadding": 4}},
            "color": {"datum": "IFC", "type": "nominal", "scale": {"domain": ["IFC"], "range": ["green"]}, "legend": {"orient": "top-right", "offset": 5}}
          }
        },
        {
          "encoding": {
            "x": {"field": "date", "type": "temporal",
              "scale": {"domain": [{"year": 2018, "month": 6, "date": 19}, {"year": 2022, "month": 9, "date": 24}]},
              "axis": {"orient": "top", "labels": false, "ticks": false, "title": null, "domain": true}},
            "y": {"field": "conflicts", "type": "quantitative",
              "scale": {"domain": [-11, 286], "nice": false, "zero": false},
              "axis": {"orient": "right", "title": "Number of conflicts", "titleAngle": -90, "titleBaseline": "top", "titlePadding": 0, "titleFontSize": 16.5, "values": [0, 50, 100, 150, 200, 250]}}
          },
          "layer": [
            {
              "data": {"name": "deir_fr"},
              "mark": {"type": "line", "strokeWidth": 1.2},
              "encoding": {"color": {"datum": "FR Conflicts", "type": "nominal", "scale": {"domain": ["FR Conflicts", "NFR Conflicts"], "range": ["#1f77b4", "#ff7f0e"]}, "legend": {"orient": "top-left", "offset": 6.5}}}
            },
            {
              "data": {"name": "deir_nfr"},
              "mark": {"type": "line", "strokeWidth": 1.15},
              "encoding": {"color": {"datum": "NFR Conflicts", "type": "nominal", "scale": {"domain": ["FR Conflicts", "NFR Conflicts"], "range": ["#1f77b4", "#ff7f0e"]}}}
            }
          ]
        }
      ],
      "resolve": {"scale": {"y": "independent", "color": "independent"}, "axis": {"x": "independent", "y": "independent"}}
    },
    {
      "width": 603,
      "height": 450,
      "title": {"text": "Sahel, Burkina Faso", "offset": 0.5, "anchor": "middle", "frame": "group"},
      "layer": [
        {
          "data": {"name": "sahel_ifc"},
          "mark": {"type": "line", "strokeWidth": 1.15},
          "encoding": {
            "x": {"field": "date", "type": "temporal",
              "scale": {"domain": [{"year": 2019, "month": 5, "date": 10}, {"year": 2023, "month": 2, "date": 24}]},
              "axis": {"title": "Time", "format": "%Y-%m", "values": [{"year": 2019, "month": 10, "date": 10}, {"year": 2020, "month": 4, "date": 7}, {"year": 2020, "month": 10, "date": 4}, {"year": 2021, "month": 4, "date": 2}, {"year": 2021, "month": 9, "date": 29}, {"year": 2022, "month": 3, "date": 28}, {"year": 2022, "month": 9, "date": 24}],
                "labelAngle": -45, "labelAlign": "right", "labelBaseline": "top", "labelPadding": 8, "labelOffset": 17, "labelFontSize": 14.8, "labelOverlap": false, "labelFlush": false, "domain": true, "titleY": 62, "titleBaseline": "top"}},
            "y": {"field": "ifc", "type": "quantitative",
              "scale": {"domain": [32.9, 87.6], "nice": false, "zero": false},
              "axis": {"orient": "left", "title": "IFC (%)", "values": [40, 50, 60, 70, 80], "domain": false, "tickColor": "#aaaaaa", "tickSize": 3, "labelPadding": 3, "titlePadding": 4}},
            "color": {"datum": "IFC", "type": "nominal", "scale": {"domain": ["IFC"], "range": ["green"]}, "legend": {"orient": "top-right", "offset": 5}}
          }
        },
        {
          "encoding": {
            "x": {"field": "date", "type": "temporal",
              "scale": {"domain": [{"year": 2019, "month": 5, "date": 10}, {"year": 2023, "month": 2, "date": 24}]},
              "axis": null},
            "y": {"field": "conflicts", "type": "quantitative",
              "scale": {"domain": [-2.8, 105.8], "nice": false, "zero": false},
              "axis": {"orient": "right", "title": "Number of conflicts", "titleAngle": -90, "titleBaseline": "top", "titlePadding": 0, "titleFontSize": 16.5, "values": [0, 20, 40, 60, 80, 100]}}
          },
          "layer": [
            {
              "data": {"name": "sahel_fr"},
              "mark": {"type": "line", "interpolate": "step-after", "strokeWidth": 1.3},
              "encoding": {"color": {"datum": "FR Conflicts", "type": "nominal", "scale": {"domain": ["FR Conflicts", "NFR Conflicts"], "range": ["#1f77b4", "#ff7f0e"]}, "legend": {"orient": "top-left", "offset": 6.5}}}
            },
            {
              "data": {"name": "sahel_nfr"},
              "mark": {"type": "line", "strokeWidth": 1.15},
              "encoding": {"color": {"datum": "NFR Conflicts", "type": "nominal", "scale": {"domain": ["FR Conflicts", "NFR Conflicts"], "range": ["#1f77b4", "#ff7f0e"]}}}
            }
          ]
        }
      ],
      "resolve": {"scale": {"y": "independent", "color": "independent"}, "axis": {"x": "independent", "y": "independent"}}
    }
  ],
  "config": {
    "font": "DejaVu Sans",
    "view": {"stroke": null},
    "title": {"fontSize": 17.4, "fontWeight": "normal", "color": "#000000", "font": "DejaVu Sans"},
    "axis": {
      "grid": false,
      "labelFont": "DejaVu Sans",
      "titleFont": "DejaVu Sans",
      "labelFontSize": 16.4,
      "titleFontSize": 16.9,
      "titleFontWeight": "normal",
      "labelColor": "#000000",
      "titleColor": "#000000",
      "tickColor": "#555555",
      "domainColor": "#777777",
      "tickSize": 3.6,
      "labelPadding": 2,
      "titlePadding": 6
    },
    "legend": {
      "title": null,
      "labelFont": "DejaVu Sans",
      "labelFontSize": 12.8,
      "labelColor": "#000000",
      "symbolType": "M-1,0H3",
      "symbolSize": 177,
      "symbolStrokeWidth": 1.8,
      "labelOffset": 24.5,
      "fillColor": "rgba(255,255,255,0.8)",
      "strokeColor": "#dddddd",
      "cornerRadius": 3,
      "padding": 5.1,
      "rowPadding": 6.1
    }
  }
}
